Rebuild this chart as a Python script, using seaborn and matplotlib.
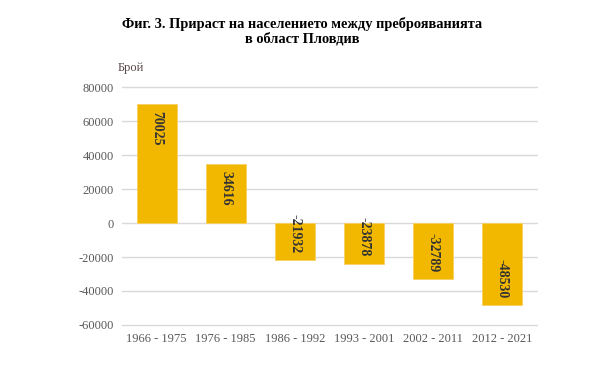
import matplotlib
matplotlib.use("Agg")
import matplotlib.pyplot as plt
import seaborn as sns
import pandas as pd

periods = ["1966 - 1975", "1976 - 1985", "1986 - 1992", "1993 - 2001", "2002 - 2011", "2012 - 2021"]
growth = [70025, 34616, -21932, -23878, -32789, -48530]

title = "Фиг. 3. Прираст на населението между преброяванията\nв област Пловдив"
ylabel = "Брой"

sns.set_theme(style="white")
plt.rcParams["font.family"] = ["Liberation Serif", "DejaVu Serif"]
plt.rcParams["axes.unicode_minus"] = False

df = pd.DataFrame({"period": periods, "growth": growth})

fig = plt.figure(figsize=(6.04, 3.65), dpi=100)
ax = fig.add_axes([0.202, 0.1096, 0.687, 0.652])

sns.barplot(data=df, x="period", y="growth", color="#F2B800", saturation=1,
            width=0.58, edgecolor="#F7D060", linewidth=0.6, ax=ax, zorder=3)

ax.set_ylim(-60000, 80000)
ax.set_yticks(range(-60000, 80001, 20000))
ax.yaxis.grid(True, color="#D9D9D9", linewidth=1, zorder=0)
for gl in ax.get_ygridlines():
    gl.set_clip_on(False)
ax.set_axisbelow(True)
for s in ax.spines.values():
    s.set_visible(False)
ax.tick_params(axis="both", length=0, labelsize=9, colors="#595959", pad=6)
ax.set_xlabel("")
ax.set_ylabel("")

for i, v in enumerate(growth):
    off = -5 if v > 0 else 5
    ax.annotate(str(v), (i, v), xytext=(0, off), textcoords="offset points",
                rotation=270, ha="center", va="top" if v > 0 else "bottom",
                fontsize=10, fontweight="bold", color="#333333", zorder=4)

fig.text(118 / 604, 1 - 68 / 365, ylabel, fontsize=9, color="#5A4A4A", ha="left", va="center")
fig.text(0.5, 1 - 31 / 365, title, fontsize=10.4, fontweight="bold", color="black",
         ha="center", va="center", linespacing=1.1)

fig.savefig("out.png", dpi=100)
